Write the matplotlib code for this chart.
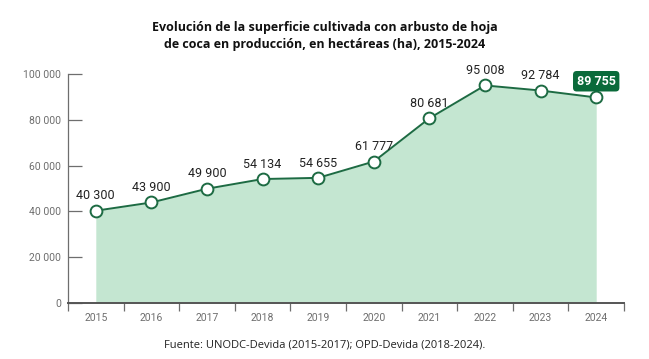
import matplotlib.pyplot as plt
from matplotlib.ticker import FuncFormatter

years = ['2015', '2016', '2017', '2018', '2019', '2020', '2021', '2022', '2023', '2024']
hectares = [40300, 43900, 49900, 54134, 54655, 61777, 80681, 95008, 92784, 89755]
yticks = [0, 20000, 40000, 60000, 80000, 100000]

line_green = '#1d6b43'
fill_green = '#c4e6d1'
grey = '#6e6e6e'

fig = plt.figure(figsize=(6.49, 3.59), dpi=100)
ax = fig.add_axes([68 / 649, 56 / 359, 556 / 649, 229 / 359])

x = list(range(len(years)))
ax.fill_between(x, hectares, 0, color=fill_green, lw=0)
ax.plot(x, hectares, color=line_green, lw=1.4, marker='o', ms=8.5,
        mfc='white', mec=line_green, mew=1.4, zorder=3)

fmt = lambda v: f'{v:,.0f}'.replace(',', ' ')
for i, v in enumerate(hectares):
    if i == len(hectares) - 1:
        ax.annotate(fmt(v), (i, v), xytext=(0, 7), textcoords='offset points',
                    ha='center', va='bottom', fontsize=9, fontweight='bold',
                    color='white', family='Roboto',
                    bbox=dict(boxstyle='round,pad=0.3,rounding_size=0.3',
                              fc='#0a6a3a', ec='none'))
    else:
        ax.annotate(fmt(v), (i, v), xytext=(0, 6), textcoords='offset points',
                    ha='center', va='bottom', fontsize=9, color='#222222',
                    family='Roboto')

ax.set_xlim(-0.5, len(years) - 0.5)
ax.set_ylim(0, 100000)
ax.set_yticks(yticks)
ax.yaxis.set_major_formatter(FuncFormatter(lambda v, p: fmt(v)))
ax.tick_params(axis='y', direction='in', length=10, color=grey, width=0.9,
               labelsize=7.5, labelcolor=grey, pad=5)
for lab in ax.get_yticklabels():
    lab.set_family('Roboto')

ax.set_xticks([i - 0.5 for i in range(len(years) + 1)])
ax.set_xticklabels([])
ax.set_xticks(x, minor=True)
ax.set_xticklabels(years, minor=True, fontsize=7.5, color=grey, family='Roboto')
ax.tick_params(axis='x', which='major', direction='out', length=6, color=grey, width=0.9)
ax.tick_params(axis='x', which='minor', length=0, pad=7)

for s in ['top', 'right']:
    ax.spines[s].set_visible(False)
ax.spines['left'].set_color(grey)
ax.spines['left'].set_linewidth(0.9)
ax.spines['bottom'].set_color('#555555')
ax.spines['bottom'].set_linewidth(1.4)

fig.text(0.5, 1 - 36 / 359, 'Evolución de la superficie cultivada con arbusto de hoja\nde coca en producción, en hectáreas (ha), 2015-2024',
         ha='center', va='center', fontsize=9, fontweight='bold', family='Open Sans',
         linespacing=1.35, color='#111111')
fig.text(0.5, 1 - 345 / 359, 'Fuente: UNODC-Devida (2015-2017); OPD-Devida (2018-2024).',
         ha='center', va='center', fontsize=8, family='Open Sans', color='#222222')

fig.savefig('out.png', dpi=100)
